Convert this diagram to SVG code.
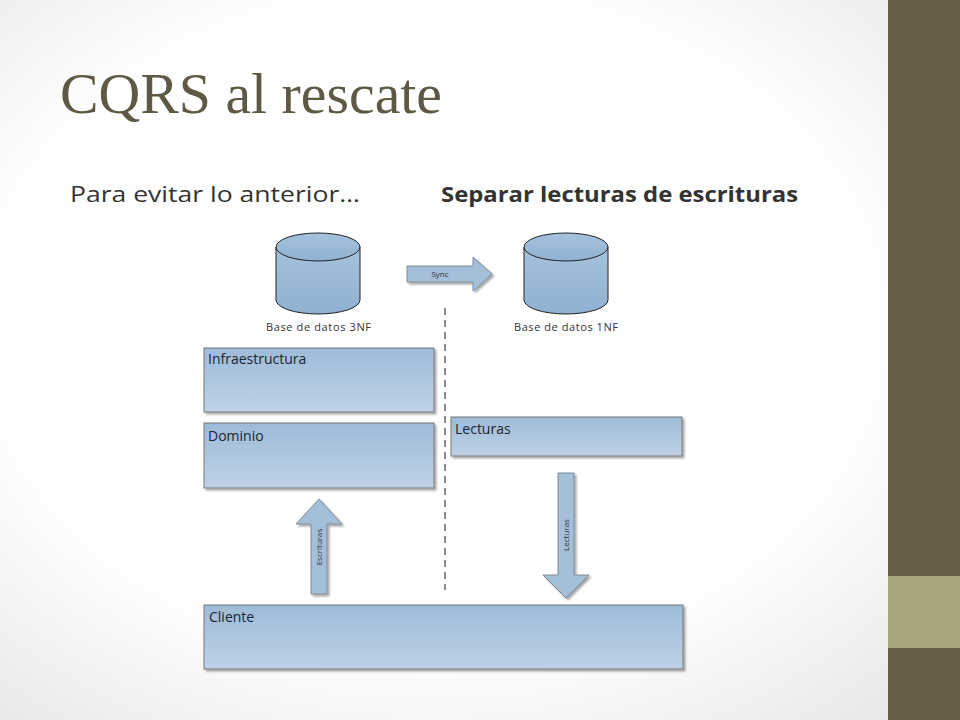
<svg xmlns="http://www.w3.org/2000/svg" width="960" height="720" viewBox="0 0 960 720">
<defs>
<radialGradient id="bg" cx="45%" cy="45%" r="75%"><stop offset="0.6" stop-color="#ffffff"/><stop offset="1" stop-color="#e6e6e6"/></radialGradient>
<linearGradient id="bx" x1="0" y1="0" x2="0" y2="1"><stop offset="0" stop-color="#9dbbd8"/><stop offset="1" stop-color="#bed2e6"/></linearGradient>
<linearGradient id="cy" x1="0" y1="0" x2="0" y2="1"><stop offset="0" stop-color="#a5c2dc"/><stop offset="1" stop-color="#8fb1d2"/></linearGradient>
<filter id="sh"><feDropShadow dx="2" dy="2" stdDeviation="1" flood-color="#000" flood-opacity="0.35"/></filter>
<style>
.bx{fill:url(#bx);stroke:#777;stroke-width:1;filter:url(#sh)}
.ar{fill:#a3bfd9;stroke:#7d8a96;stroke-width:1;filter:url(#sh)}
.cy{fill:url(#cy);stroke:#222;stroke-width:1}
.t{font-family:"Open Sans","DejaVu Sans",sans-serif;font-size:14px;fill:#1a2430}
.lb{font-family:"Open Sans","DejaVu Sans",sans-serif;font-size:11px;fill:#333}
.sm{font-family:"Open Sans","DejaVu Sans",sans-serif;font-size:8px;fill:#333}
</style>
</defs>
<rect width="960" height="720" fill="url(#bg)"/>
<rect x="888" y="0" width="72" height="720" fill="#665e47"/>
<rect x="888" y="576" width="72" height="72" fill="#a9a57c"/>
<text x="60" y="113" font-family="'Liberation Serif',serif" font-size="58" fill="#5e5944" textLength="382" lengthAdjust="spacingAndGlyphs">CQRS al rescate</text>
<text x="70" y="202" font-family="'Open Sans','DejaVu Sans',sans-serif" font-size="22" fill="#333" textLength="290" lengthAdjust="spacingAndGlyphs">Para evitar lo anterior…</text>
<text x="441" y="202" font-family="'Open Sans','DejaVu Sans',sans-serif" font-size="22" font-weight="bold" fill="#333" textLength="357" lengthAdjust="spacingAndGlyphs">Separar lecturas de escrituras</text>
<g id="db3">
<path class="cy" d="M276,247 v53 a42,14 0 0 0 84,0 v-53"/>
<ellipse class="cy" cx="318" cy="247" rx="42" ry="14" fill="#b4cde3"/>
<text class="lb" x="266" y="331" textLength="105">Base de datos 3NF</text>
</g>
<g id="db1">
<path class="cy" d="M524,247 v53 a42,14 0 0 0 84,0 v-53"/>
<ellipse class="cy" cx="566" cy="247" rx="42" ry="14" fill="#b4cde3"/>
<text class="lb" x="514" y="331" textLength="104">Base de datos 1NF</text>
</g>
<g id="infra"><rect class="bx" x="204" y="348" width="230" height="64"/><text class="t" x="208" y="364">Infraestructura</text></g>
<g id="dominio"><rect class="bx" x="204" y="423" width="230" height="65"/><text class="t" x="208" y="441">Dominio</text></g>
<g id="lecturas"><rect class="bx" x="451" y="417" width="231" height="39"/><text class="t" x="455" y="434">Lecturas</text></g>
<g id="cliente"><rect class="bx" x="204" y="605" width="479" height="64"/><text class="t" x="209" y="622">Cliente</text></g>
<g id="connectors">
<line x1="445" y1="308" x2="445" y2="590" stroke="#666" stroke-width="1.5" stroke-dasharray="7,5"/>
<path class="ar" d="M407,266 h66 v-9 l19,17 l-19,17 v-9 h-66 z"/>
<text class="sm" x="440" y="277" text-anchor="middle">Sync</text>
<path class="ar" d="M311,594 v-70 h-15 l23,-25 l23,25 h-15 v70 z"/>
<text class="sm" transform="translate(322,547) rotate(-90)" text-anchor="middle">Escrituras</text>
<path class="ar" d="M558,473 h16 v102 h15 l-23,23 l-23,-23 h15 z"/>
<text class="sm" transform="translate(569,535) rotate(-90)" text-anchor="middle">Lecturas</text>
</g>
</svg>
